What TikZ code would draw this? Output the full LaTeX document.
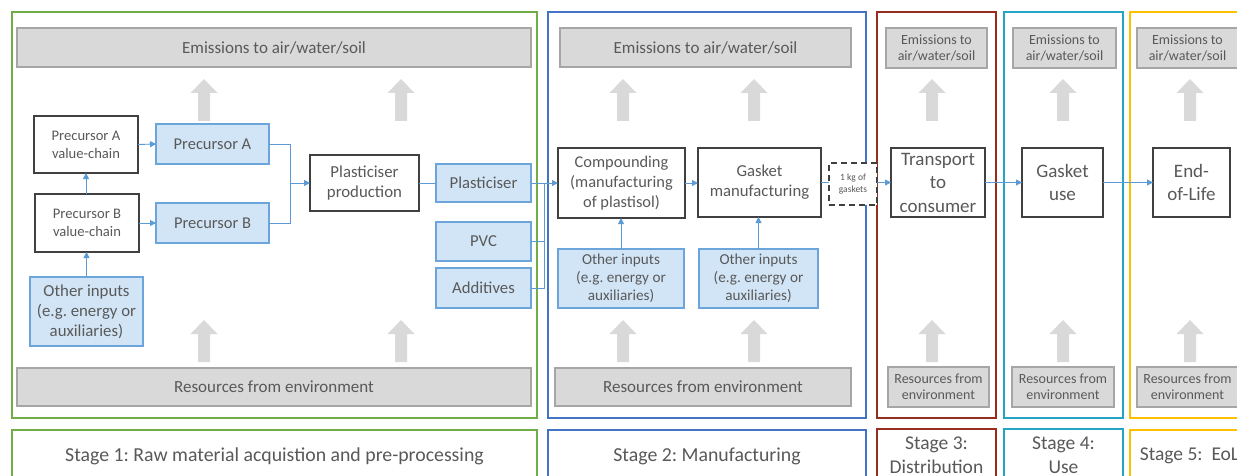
\documentclass[tikz,border=0pt]{standalone}
\usepackage{fontspec}
\setmainfont{Carlito}
\usetikzlibrary{arrows.meta}
\frenchspacing
\definecolor{txt}{HTML}{595959}
\definecolor{cgreen}{HTML}{70AD47}
\definecolor{cbluestage}{HTML}{4472C4}
\definecolor{cred}{RGB}{150,45,30}
\definecolor{ccyan}{RGB}{35,165,195}
\definecolor{cyellow}{HTML}{FFC000}
\definecolor{gfill}{HTML}{D9D9D9}
\definecolor{gborder}{HTML}{A6A6A6}
\definecolor{bfill}{HTML}{D2E5F6}
\definecolor{bborder}{HTML}{6BA5DC}
\definecolor{cline}{HTML}{5B9BD5}
\definecolor{boxdk}{HTML}{404040}
\tikzset{
  every node/.style={text=txt, align=center, inner sep=0pt, outer sep=0pt},
  fs/.style 2 args={font=\fontsize{#1}{#2}\selectfont},
  frame/.style={draw=#1, line width=2.5pt},
  procbox/.style={draw=boxdk, fill=white, line width=1.2pt},
  bluebox/.style={draw=bborder, fill=bfill, line width=1.2pt},
  graybar/.style={draw=gborder, fill=gfill, line width=1.5pt},
  conn/.style={draw=cline, line width=0.9pt},
  arr/.style={conn, -{Triangle[width=6pt,length=6pt]}},
  uparr/.pic={\fill[gfill] (-6,0) -- (-6,-28) -- (-13.5,-28) -- (0,-42) -- (13.5,-28) -- (6,-28) -- (6,0) -- cycle;}
}
\begin{document}
\begin{tikzpicture}[x=1pt,y=-1pt]
\useasboundingbox (0,0) rectangle (1237,476);
\clip (0,0) rectangle (1237,476);
\fill[white] (0,0) rectangle (1237,476);

% stage frames
\node[frame=cgreen, minimum width=525pt, minimum height=406pt] (F1) at (274.5,215) {};
\node[frame=cbluestage, minimum width=318pt, minimum height=406pt] (F2) at (707,215) {};
\node[frame=cred, minimum width=119pt, minimum height=406pt] (F3) at (936.5,215) {};
\node[frame=ccyan, minimum width=119pt, minimum height=406pt] (F4) at (1063.5,215) {};
\node[frame=cyellow, minimum width=119pt, minimum height=406pt] (F5) at (1189.5,215) {};

% stage labels
\node[frame=cgreen, minimum width=525pt, minimum height=52pt, fs={19.8}{23.5}] (L1) at (274.5,456) {Stage 1: Raw material acquistion and pre-processing};
\node[frame=cbluestage, minimum width=318pt, minimum height=52pt, fs={19.8}{23.5}] (L2) at (707,456) {Stage 2: Manufacturing};
\node[frame=cred, minimum width=119pt, minimum height=52pt, fs={19.5}{23.5}] (L3) at (936.5,455) {Stage 3:\\Distribution};
\node[frame=ccyan, minimum width=119pt, minimum height=52pt, fs={19.5}{23.5}] (L4) at (1063.5,455) {Stage 4:\\Use};
\node[frame=cyellow, minimum width=119pt, minimum height=52pt, fs={19.5}{23.5}] (L5) at (1189.5,456) {Stage 5:\ \ EoL};

% emission bars
\node[graybar, minimum width=514pt, minimum height=39pt, fs={17}{20}] (E1) at (274,47.5) {Emissions to air/water/soil};
\node[graybar, minimum width=291pt, minimum height=39pt, fs={17}{20}] (E2) at (705.5,47.5) {Emissions to air/water/soil};
\node[graybar, minimum width=101pt, minimum height=40pt, fs={14}{16.5}] (E3) at (936.5,48) {Emissions to\\air/water/soil};
\node[graybar, minimum width=103pt, minimum height=40pt, fs={14}{16.5}] (E4) at (1064.5,48) {Emissions to\\air/water/soil};
\node[graybar, minimum width=101pt, minimum height=40pt, fs={14}{16.5}] (E5) at (1187.5,48) {Emissions to\\air/water/soil};

% resource bars
\node[graybar, minimum width=514pt, minimum height=38pt, fs={17}{20}] (R1) at (274,387) {Resources from environment};
\node[graybar, minimum width=296pt, minimum height=38pt, fs={17}{20}] (R2) at (703,387) {Resources from environment};
\node[graybar, minimum width=101pt, minimum height=40pt, fs={14}{16.5}] (R3) at (938.5,387) {Resources from\\environment};
\node[graybar, minimum width=102pt, minimum height=40pt, fs={14}{16.5}] (R4) at (1063,387) {Resources from\\environment};
\node[graybar, minimum width=101pt, minimum height=40pt, fs={14}{16.5}] (R5) at (1187.5,387) {Resources from\\environment};

% gray arrows
\foreach \ax in {204,401,623,754,932,1063,1190}{
  \pic at (\ax,121) {uparr};
  \pic at (\ax,362) {uparr};
}

% stage 1 boxes
\node[procbox, minimum width=104pt, minimum height=57pt, fs={14.6}{18}] (PAV) at (86,144.5) {Precursor A\\value-chain};
\node[bluebox, minimum width=113pt, minimum height=40pt, fs={16.5}{20}] (PA) at (212.5,144) {Precursor A};
\node[procbox, minimum width=104pt, minimum height=58pt, fs={14.6}{18}] (PBV) at (87,223) {Precursor B\\value-chain};
\node[bluebox, minimum width=113pt, minimum height=40pt, fs={16.5}{20}] (PB) at (212.5,223) {Precursor B};
\node[procbox, minimum width=109pt, minimum height=56pt, fs={16.8}{20.5}] (PP) at (364.5,183) {Plasticiser\\production};
\node[bluebox, minimum width=113pt, minimum height=69pt, fs={16.8}{20}] (OI1) at (86.5,311.5) {Other inputs\\(e.g. energy or\\auxiliaries)};
\node[bluebox, minimum width=95pt, minimum height=38pt, fs={16.7}{20}] (PL) at (483.5,183) {Plasticiser};
\node[bluebox, minimum width=95pt, minimum height=39pt, fs={16.7}{20}] (PVC) at (483.5,241.5) {PVC};
\node[bluebox, minimum width=95pt, minimum height=40pt, fs={16.7}{20}] (ADD) at (483.5,288) {Additives};

% stage 2 boxes
\node[procbox, minimum width=127pt, minimum height=70pt, fs={16.4}{20}] (CMP) at (621.5,183) {Compounding\\(manufacturing\\of plastisol)};
\node[procbox, minimum width=123pt, minimum height=69pt, fs={16.7}{20}] (GM) at (759.5,182.5) {Gasket\\manufacturing};
\node[bluebox, minimum width=126pt, minimum height=59pt, fs={15.2}{18}] (OI2a) at (621,278.5) {Other inputs\\(e.g. energy or\\auxiliaries)};
\node[bluebox, minimum width=119pt, minimum height=59pt, fs={15.2}{18}] (OI2b) at (758.5,278.5) {Other inputs\\(e.g. energy or\\auxiliaries)};
\node[draw=boxdk, line width=1.2pt, dash pattern=on 6pt off 4pt, fill=white, minimum width=48pt, minimum height=42pt, fs={9.5}{12.5}] (KG) at (853,184) {1 kg of\\gaskets};

% stages 3-5 boxes
\node[procbox, minimum width=94pt, minimum height=69pt, fs={19}{23.5}] (TR) at (938,182.5) {Transport\\to\\consumer};
\node[procbox, minimum width=81pt, minimum height=69pt, fs={19}{23.5}] (GU) at (1062.5,182.5) {Gasket\\use};
\node[procbox, minimum width=77pt, minimum height=69pt, fs={19}{23.5}] (EOL) at (1191.5,182.5) {End-\\of-Life};

% connectors
\coordinate (J1) at (290,183);
\coordinate (J2) at (544,183);
\draw[arr] (PAV.east) -- (PA.west);
\draw[arr] (PBV.east) -- (PB.west);
\draw[arr] (PBV.north -| PAV.south) -- (PAV.south);
\draw[arr] (OI1.north) -- (OI1.north |- PBV.south);
\draw[conn] (PA.east) -| (J1);
\draw[conn] (PB.east) -| (J1);
\draw[arr] (J1) -- (PP.west);
\draw[conn] (PP.east) -- (PL.west);
\draw[arr] (PL.east) -- (CMP.west);
\draw[conn] (PVC.east) -| (J2);
\draw[conn] (ADD.east) -| (J2);
\draw[arr] (CMP.east) -- (CMP.east -| GM.west);
\draw[arr] (OI2a.north) -- (OI2a.north |- CMP.south);
\draw[arr] (OI2b.north) -- (OI2b.north |- GM.south);
\draw[conn] (GM.east) -- (GM.east -| KG.west);
\draw[arr] (KG.east |- TR.west) -- (TR.west);
\draw[arr] (TR.east) -- (GU.west);
\draw[arr] (GU.east) -- (EOL.west);
\end{tikzpicture}
\end{document}
